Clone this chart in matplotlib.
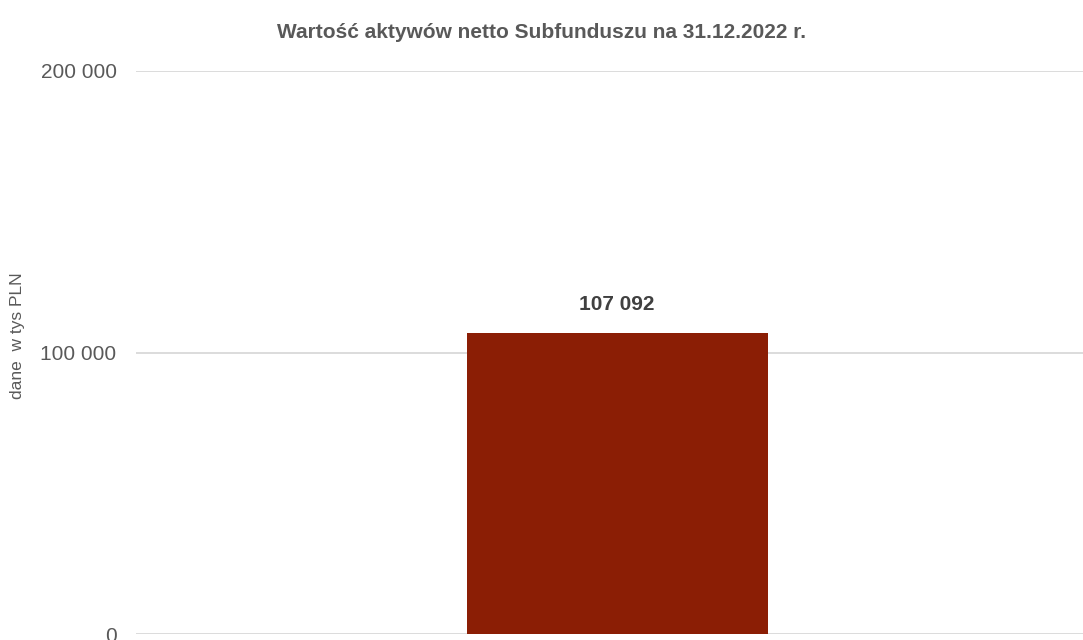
import matplotlib.pyplot as plt
from matplotlib.ticker import FuncFormatter

plt.rcParams['font.family'] = ['Liberation Sans', 'DejaVu Sans']

# Data
categories = ["31.12.2022"]
values = [107092]
yticks = [0, 100000, 200000]

BAR_COLOR = "#8B1E05"
TEXT_COLOR = "#595959"
GRID_COLOR = "#d9d9d9"


def fmt(v, pos=None):
    return f"{int(v):,}".replace(",", " ")


fig = plt.figure(figsize=(10.83, 6.4), dpi=100)
ax = fig.add_axes([136 / 1083, 6 / 640, 947 / 1083, 563 / 640])

x = list(range(len(categories)))
bars = ax.bar(x, values, width=0.318, color=BAR_COLOR, zorder=3)

ax.set_xlim(-0.508, 0.492)
ax.set_ylim(0, 200000)
ax.set_yticks(yticks)
ax.yaxis.set_major_formatter(FuncFormatter(fmt))
ax.set_xticks([])

ax.grid(axis='y', color=GRID_COLOR, linewidth=1.3, zorder=0)
for s in ax.spines.values():
    s.set_visible(False)
ax.tick_params(axis='y', length=0, pad=14, labelsize=15, labelcolor=TEXT_COLOR)

for b, v in zip(bars, values):
    ax.text(b.get_x() + b.get_width() / 2, v + 6500, fmt(v), ha='center', va='bottom',
            fontsize=15, fontweight='bold', color="#404040")

# y axis label
fig.text(18 / 1083, 1 - 336 / 640, "dane  w tys PLN", rotation=90, ha='center', va='center',
         fontsize=12.5, color=TEXT_COLOR)

fig.text(0.5, 1 - 33 / 640, "Wartość aktywów netto Subfunduszu na 31.12.2022 r.",
         ha='center', va='center', fontsize=15, fontweight='bold', color=TEXT_COLOR)

fig.savefig("out.png", dpi=100)
